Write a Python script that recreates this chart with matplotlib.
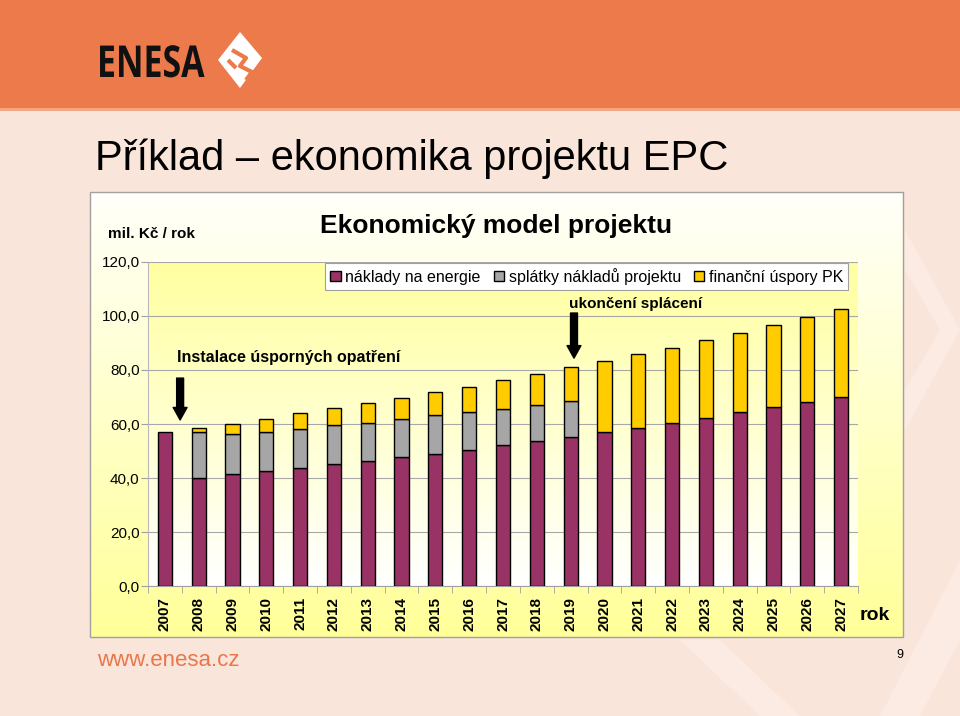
import numpy as np
import matplotlib
matplotlib.use('Agg')
import matplotlib.pyplot as plt
from matplotlib.patches import Rectangle, Polygon, PathPatch, Patch
from matplotlib.textpath import TextPath
from matplotlib.font_manager import FontProperties
from matplotlib.transforms import Affine2D
from matplotlib.colors import to_rgb

plt.rcParams['font.family'] = ['Liberation Sans', 'DejaVu Sans']

# data (mil. Kč / rok)
roky = [str(r) for r in range(2007, 2028)]
naklady_energie = [57.0, 40.0, 41.5, 42.6, 43.8, 45.2, 46.2, 47.7, 48.9, 50.4, 52.3,
                   53.8, 55.2, 57.2, 58.6, 60.5, 62.3, 64.3, 66.3, 68.1, 70.0]
splatky = [0.0, 17.1, 14.7, 14.6, 14.2, 14.3, 14.3, 14.2, 14.4, 13.9, 13.4,
           13.2, 13.3, 0.0, 0.0, 0.0, 0.0, 0.0, 0.0, 0.0, 0.0]
uspory = [0.0, 1.5, 3.8, 4.8, 6.0, 6.3, 7.3, 7.6, 8.7, 9.5, 10.6,
          11.6, 12.5, 26.1, 27.2, 27.8, 28.7, 29.5, 30.5, 31.7, 32.5]
y_ticks = [0, 20, 40, 60, 80, 100, 120]
serie = ['náklady na energie', 'splátky nákladů projektu', 'finanční úspory PK']
barvy = ['#993366', '#a6a6a6', '#ffcc00']

peach = '#fae5db'
orange = '#ed7a4b'

fig = plt.figure(figsize=(9.6, 7.16), dpi=100, facecolor=peach)

# slide background in pixel coordinates
bg = fig.add_axes([0, 0, 1, 1], zorder=0)
bg.set_xlim(0, 960)
bg.set_ylim(716, 0)
bg.axis('off')

# faint decorative chevrons
light = '#fbebe3'
bg.add_patch(Polygon([(905, 230), (960, 330), (905, 430), (905, 390), (940, 330), (905, 270)],
                     closed=True, fc=light, ec='none'))
bg.add_patch(Polygon([(680, 640), (760, 716), (800, 716), (720, 640)], closed=True, fc=light, ec='none'))
bg.add_patch(Polygon([(960, 560), (880, 716), (920, 716), (960, 640)], closed=True, fc=light, ec='none'))

# header band
bg.add_patch(Rectangle((0, 0), 960, 108, fc=orange, ec='none'))
bg.add_patch(Rectangle((0, 108), 960, 3, fc='#f3a585', ec='none'))

# ENESA logo text (condensed)
tp = TextPath((0, 0), 'ENESA', size=44, prop=FontProperties(family='Open Sans', weight='bold'))
tr = Affine2D().scale(0.77, -1).translate(97, 77)
bg.add_patch(PathPatch(tr.transform_path(tp), fc='#111111', ec='none'))
# logo mark
bg.add_patch(Polygon([(240, 32), (262, 58), (240, 88), (218, 60)], closed=True, fc='white', ec='none'))
bg.plot([232, 246, 240, 252, 246], [50, 58, 66, 72, 80], color=orange, lw=3, solid_capstyle='butt')
bg.plot([228, 236], [60, 68], color=orange, lw=3, solid_capstyle='butt')

# chart area with vertical gradient (white -> yellow)
top_c, bot_c = np.array(to_rgb('#fffffa')), np.array(to_rgb('#ffff99'))
t = np.linspace(0, 1, 256)[:, None, None]
grad = top_c * (1 - t) + bot_c * t
bg.imshow(grad, extent=(90, 903, 637, 192), aspect='auto', origin='upper', zorder=1)
bg.add_patch(Rectangle((90, 192), 813, 445, fc='none', ec='#a0a0a0', lw=1, zorder=2))
bg.set_xlim(0, 960)
bg.set_ylim(716, 0)

# main plot area
ax = fig.add_axes([148 / 960, (716 - 586) / 716, 710 / 960, 324 / 716], zorder=2)
ax.patch.set_alpha(0)
pa_top, pa_bot = np.array(to_rgb('#ffffa0')), np.array(to_rgb('#ffffff'))
grad2 = pa_top * (1 - t) + pa_bot * t
ax.imshow(grad2, extent=(-0.5, 20.5, 0, 120), aspect='auto', origin='upper', zorder=0)

x = np.arange(len(roky))
w = 0.42
bottom = np.zeros(len(roky))
for vals, col in zip([naklady_energie, splatky, uspory], barvy):
    vals = np.array(vals)
    m = vals > 0
    ax.bar(x[m], vals[m], w, bottom=bottom[m], color=col, edgecolor='black', lw=1, zorder=3)
    bottom = bottom + vals

ax.set_xlim(-0.5, 20.5)
ax.set_ylim(0, 120)
ax.set_yticks(y_ticks)
ax.set_yticklabels([f'{v:.1f}'.replace('.', ',') for v in y_ticks], fontsize=11)
ax.yaxis.grid(True, color='#a8a8a8', lw=0.8)
ax.set_axisbelow(True)
ax.set_xticks(x)
ax.set_xticklabels(roky, rotation=90, fontsize=11, fontweight='bold')
ax.set_xticks(np.arange(-0.5, 21, 1), minor=True)
ax.tick_params(axis='x', which='major', length=0, pad=8)
ax.tick_params(axis='x', which='minor', length=5, color='#a0a0a0', direction='out')
ax.tick_params(axis='y', length=5, color='#a0a0a0', pad=1)
for s in ['top', 'right']:
    ax.spines[s].set_visible(False)
ax.spines['bottom'].set_color('#a0a0a0')
ax.spines['left'].set_color('#b8b8b8')
ax.spines['left'].set_linewidth(0.8)

handles = [Patch(facecolor=c, edgecolor='black', lw=1, label=s) for s, c in zip(serie, barvy)]
leg = ax.legend(handles=handles, loc='upper right', bbox_to_anchor=(0.986, 0.997),
                ncol=3, fontsize=11.5, frameon=True, fancybox=False, framealpha=1,
                edgecolor='#a0a0a0', handlelength=0.65, handleheight=0.65, handletextpad=0.3,
                columnspacing=0.8, borderpad=0.3, borderaxespad=0)
leg.get_frame().set_linewidth(0.8)
leg.set_zorder(5)

# annotations
ax.text(11.95, 104.5, 'ukončení splácení', fontsize=11, fontweight='bold', ha='left', va='center', zorder=5)
ax.annotate('', xy=(12.1, 84.4), xytext=(12.1, 101.1),
            arrowprops=dict(arrowstyle='simple,head_width=1.0,head_length=0.9,tail_width=0.5',
                            color='black', mutation_scale=10, shrinkA=0, shrinkB=0), zorder=5)
ax.text(0.35, 84.5, 'Instalace úsporných opatření', fontsize=11.5, fontweight='bold',
        ha='left', va='center', zorder=5)
ax.annotate('', xy=(0.45, 61.5), xytext=(0.45, 77.0),
            arrowprops=dict(arrowstyle='simple,head_width=1.0,head_length=0.9,tail_width=0.5',
                            color='black', mutation_scale=10, shrinkA=0, shrinkB=0), zorder=5)

# texts
fig.text(95 / 960, 1 - 170 / 716, 'Příklad – ekonomika projektu EPC', fontsize=30, ha='left', va='baseline')
fig.text(496 / 960, 1 - 226 / 716, 'Ekonomický model projektu', fontsize=19, fontweight='bold',
         ha='center', va='center')
fig.text(108 / 960, 1 - 234 / 716, 'mil. Kč / rok', fontsize=11, fontweight='bold', ha='left', va='center')
fig.text(860 / 960, 1 - 616 / 716, 'rok', fontsize=14, fontweight='bold', ha='left', va='center')
fig.text(97 / 960, 1 - 660 / 716, 'www.enesa.cz', fontsize=16, color='#e8774a', ha='left', va='center')
fig.text(900 / 960, 1 - 655 / 716, '9', fontsize=9, ha='center', va='center')

fig.savefig('out.png', dpi=100, facecolor=peach)
